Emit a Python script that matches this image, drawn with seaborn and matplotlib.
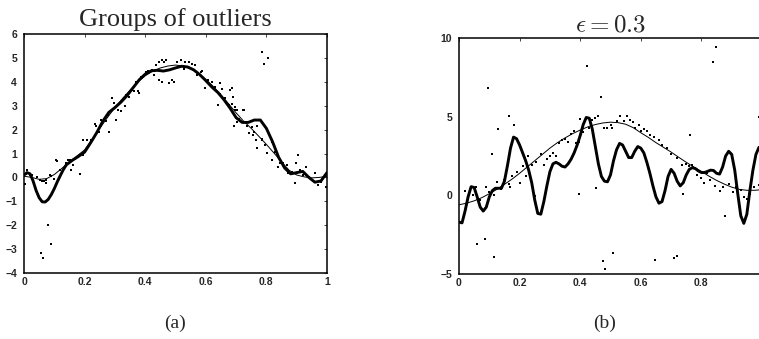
import numpy as np
import pandas as pd
import matplotlib
matplotlib.use("Agg")
import matplotlib.pyplot as plt
import seaborn as sns

# ---------------- panel (a): groups of outliers ----------------
a_true_x = [0.000, 0.025, 0.050, 0.075, 0.100, 0.125, 0.150, 0.175, 0.200, 0.225,
            0.250, 0.275, 0.300, 0.325, 0.350, 0.375, 0.400, 0.425, 0.450, 0.475,
            0.500, 0.525, 0.550, 0.575, 0.600, 0.625, 0.650, 0.675, 0.700, 0.725,
            0.750, 0.775, 0.800, 0.825, 0.850, 0.875, 0.900, 0.925, 0.950, 0.975, 1.000]
a_true_y = [0.05, 0.00, -0.08, -0.05, 0.12, 0.38, 0.65, 0.90, 1.15, 1.60,
            2.05, 2.50, 2.92, 3.30, 3.65, 3.98, 4.25, 4.45, 4.58, 4.66,
            4.70, 4.66, 4.55, 4.35, 4.10, 3.80, 3.45, 3.08, 2.70, 2.35,
            2.05, 1.72, 1.38, 1.02, 0.65, 0.30, 0.10, 0.02, -0.02, 0.00, 0.05]

a_fit_x = [0.00, 0.01, 0.02, 0.03, 0.04, 0.05, 0.06, 0.07, 0.08, 0.09, 0.10, 0.11,
           0.12, 0.13, 0.14, 0.16, 0.18, 0.20, 0.22, 0.24, 0.26, 0.28, 0.30, 0.32,
           0.34, 0.36, 0.38, 0.40, 0.42, 0.44, 0.46, 0.48, 0.50, 0.52, 0.54, 0.56,
           0.58, 0.60, 0.62, 0.64, 0.66, 0.68, 0.70, 0.72, 0.74, 0.76, 0.78, 0.80,
           0.82, 0.84, 0.86, 0.88, 0.90, 0.92, 0.94, 0.96, 0.98, 1.00]
a_fit_y = [0.10, 0.20, 0.15, -0.15, -0.55, -0.85, -1.02, -1.03, -0.92, -0.72, -0.47, -0.18,
           0.08, 0.33, 0.53, 0.72, 0.88, 1.06, 1.45, 1.87, 2.35, 2.72, 2.92, 3.15,
           3.42, 3.75, 4.08, 4.32, 4.46, 4.48, 4.45, 4.50, 4.58, 4.65, 4.62, 4.50,
           4.30, 4.05, 3.78, 3.55, 3.25, 2.90, 2.50, 2.30, 2.30, 2.40, 2.40, 2.05,
           1.50, 0.85, 0.40, 0.15, 0.20, 0.25, 0.00, -0.20, -0.15, 0.20]

a_pts_x = [0.003, 0.007, 0.009, 0.014, 0.020, 0.027, 0.030, 0.044, 0.052, 0.058,
           0.066, 0.072, 0.074, 0.085, 0.090, 0.100, 0.105, 0.109, 0.116, 0.118,
           0.140, 0.145, 0.151, 0.154, 0.162, 0.167, 0.181, 0.184, 0.195,
           0.055, 0.063, 0.080, 0.089,
           0.203, 0.195, 0.208, 0.222, 0.233, 0.238, 0.249, 0.255, 0.269, 0.276,
           0.282, 0.291, 0.298, 0.304, 0.309, 0.320, 0.326, 0.334, 0.337, 0.348,
           0.356, 0.364, 0.369, 0.375, 0.380, 0.386, 0.397, 0.402, 0.408, 0.424,
           0.435, 0.446, 0.457, 0.462, 0.430, 0.446, 0.457, 0.468, 0.479, 0.490,
           0.495, 0.506, 0.517, 0.528, 0.533, 0.544, 0.555, 0.566, 0.572, 0.583,
           0.588, 0.599, 0.608, 0.615, 0.621, 0.632, 0.648, 0.654, 0.665, 0.675,
           0.681, 0.686, 0.697, 0.703, 0.708, 0.725, 0.641, 0.647, 0.678, 0.685,
           0.691, 0.696, 0.724, 0.693, 0.704, 0.735, 0.751, 0.768, 0.744, 0.757,
           0.784, 0.759, 0.766, 0.784, 0.770, 0.795, 0.801, 0.817, 0.820, 0.828,
           0.839, 0.845, 0.856, 0.867, 0.872, 0.883, 0.894, 0.905, 0.898,
           0.784, 0.804, 0.793,
           0.910, 0.920, 0.930, 0.940, 0.950, 0.960, 0.970, 0.980, 0.990, 0.998]
a_pts_y = [-0.28, 0.15, 0.29, 0.18, 0.11, 0.11, -0.10, 0.01, -0.10, -0.17,
           -0.17, -0.24, -0.10, 0.11, 0.07, -0.07, 0.74, 0.67, -0.03, 0.32,
           0.60, 0.74, 0.74, 0.32, 0.53, 0.77, 0.91, 0.15, 0.95,
           -3.17, -3.38, -1.99, -2.80,
           1.20, 1.58, 1.58, 1.55, 2.25, 2.13, 1.90, 2.41, 2.38, 2.60,
           1.90, 3.33, 3.11, 2.41, 2.80, 2.78, 3.22, 3.00, 3.43, 3.36,
           3.64, 3.61, 3.99, 3.61, 3.53, 4.20, 4.27, 4.41, 4.45, 4.48,
           4.69, 4.83, 4.92, 4.83, 4.27, 4.06, 3.99, 4.90, 3.95, 4.06,
           3.99, 4.83, 4.92, 4.55, 4.83, 4.83, 4.76, 4.69, 4.27, 4.41,
           4.45, 3.75, 4.06, 3.85, 3.99, 3.78, 3.50, 3.71, 3.33, 3.01,
           3.67, 3.08, 2.94, 2.80, 2.45, 2.80, 3.03, 3.94, 3.03, 3.73,
           3.38, 2.82, 2.82, 2.15, 2.33, 2.15, 2.10, 2.15, 1.85, 1.77,
           1.59, 1.91, 1.56, 1.56, 1.22, 1.36, 1.01, 1.49, 0.73, 1.08,
           0.45, 0.59, 0.59, 0.52, 0.17, 0.24, -0.25, 0.94, 0.59,
           5.23, 5.01, 4.73,
           0.30, 0.10, 0.45, 0.00, -0.10, 0.20, -0.30, -0.20, 0.00, -0.40]

# ---------------- panel (b): epsilon = 0.3 ----------------
b_true_x = a_true_x
b_true_y = [-0.60, -0.50, -0.35, -0.15, 0.10, 0.38, 0.70, 1.03, 1.40, 1.80,
            2.20, 2.60, 3.00, 3.35, 3.65, 3.92, 4.15, 4.35, 4.50, 4.60,
            4.65, 4.62, 4.52, 4.30, 3.98, 3.68, 3.35, 3.05, 2.75, 2.42,
            2.10, 1.80, 1.52, 1.22, 0.95, 0.72, 0.52, 0.38, 0.32, 0.32, 0.36]

b_fit_x = [round(0.01 * i, 2) for i in range(101)]
b_fit_y = [-1.70, -1.75, -1.00, -0.10, 0.55, 0.50, -0.10, -0.75, -1.00, -0.75,
           -0.10, 0.30, 0.45, 0.45, 0.45, 0.90, 1.90, 3.00, 3.70, 3.60,
           3.20, 2.70, 2.20, 1.60, 0.80, -0.30, -1.15, -1.20, -0.40, 0.60,
           1.50, 2.00, 2.10, 2.00, 1.85, 1.80, 2.00, 2.30, 2.70, 3.20,
           3.80, 4.50, 4.95, 4.90, 4.20, 3.10, 2.00, 1.20, 0.90, 0.86,
           1.30, 2.20, 2.90, 3.30, 3.20, 2.80, 2.40, 2.40, 2.80, 3.10,
           3.00, 2.70, 2.10, 1.40, 0.60, -0.10, -0.50, -0.40, 0.30, 1.20,
           1.65, 1.40, 0.90, 0.60, 0.80, 1.30, 1.65, 1.76, 1.70, 1.55,
           1.45, 1.45, 1.52, 1.60, 1.58, 1.40, 1.35, 1.80, 2.50, 2.80,
           2.60, 1.60, 0.10, -1.30, -1.78, -1.20, 0.30, 1.60, 2.60, 3.05, 3.00]

b_pts_x = [0.020, 0.030, 0.045, 0.055, 0.070, 0.090, 0.100, 0.115, 0.125, 0.140,
           0.150, 0.165, 0.175, 0.190, 0.200, 0.210, 0.220, 0.240, 0.255, 0.270,
           0.280, 0.290, 0.300, 0.310, 0.320, 0.330, 0.340, 0.350, 0.360, 0.370,
           0.380, 0.385, 0.395, 0.400, 0.410, 0.430, 0.440, 0.450, 0.460, 0.480,
           0.490, 0.500, 0.505, 0.520, 0.530, 0.545, 0.555, 0.565, 0.575, 0.580,
           0.595, 0.600, 0.610, 0.620, 0.630, 0.645, 0.660, 0.670, 0.685, 0.700,
           0.720, 0.735, 0.750, 0.760, 0.770, 0.785, 0.800, 0.810, 0.820, 0.830,
           0.845, 0.860, 0.870, 0.890, 0.905, 0.915, 0.930, 0.940, 0.950, 0.960,
           0.975, 0.990,
           0.095, 0.166, 0.182, 0.128, 0.108, 0.227, 0.423, 0.467, 0.059, 0.085,
           0.116, 0.397, 0.453, 0.476, 0.483, 0.508, 0.250, 0.169, 0.849, 0.839,
           0.764, 0.740, 0.879, 0.648, 0.708, 0.719, 0.990]
b_pts_y = [0.25, -0.20, 0.00, 0.50, -0.30, 0.50, 0.20, 0.00, 0.85, 0.40,
           1.00, 0.75, 1.20, 1.50, 0.80, 1.85, 1.20, 1.90, 2.10, 2.60,
           1.90, 2.30, 2.50, 2.70, 2.50, 3.30, 3.50, 3.60, 3.40, 3.90,
           4.10, 3.30, 3.40, 4.85, 4.00, 4.30, 4.80, 4.90, 5.05, 4.30,
           4.30, 4.45, 4.30, 4.75, 5.05, 4.70, 5.05, 4.80, 4.65, 4.30,
           4.50, 4.10, 4.20, 4.10, 3.85, 3.70, 3.50, 3.20, 3.00, 2.60,
           2.35, 1.90, 2.00, 1.85, 1.90, 1.30, 1.10, 0.80, 1.40, 0.95,
           0.60, 0.30, 0.50, 0.75, 0.20, 0.55, 0.35, -0.10, -0.25, 0.10,
           0.55, 0.65,
           6.80, 5.07, 4.50, 4.20, 2.64, 2.50, 8.20, 6.28, -3.07, -2.80,
           -3.90, 0.10, 0.47, -4.20, -4.67, -3.66, -0.05, 0.50, 9.45, 8.50,
           3.83, 0.06, -1.30, -4.11, -3.96, -3.83, 5.00]

x_ticks = [0, 0.2, 0.4, 0.6, 0.8, 1]
a_xlabels = ['0', '0.2', '0.4', '0.6', '0.8', '1']
b_xlabels = ['0', '0.2', '0.4', '0.6', '0.8', '']   # "1" falls off the page
a_yticks = [-4, -3, -2, -1, 0, 1, 2, 3, 4, 5, 6]
b_yticks = [-5, 0, 5, 10]

sns.set_style("white")
plt.rcParams['font.family'] = ['Liberation Sans', 'DejaVu Sans']
plt.rcParams['mathtext.fontset'] = 'cm'

fig = plt.figure(figsize=(7.59, 3.39), dpi=100)
ax1 = fig.add_axes([24 / 759, 1 - 273 / 339, 303 / 759, 239 / 339])
ax2 = fig.add_axes([459 / 759, 1 - 274 / 339, 303 / 759, 236 / 339])


def draw_panel(ax, px, py, tx, ty, fx, fy, dot, xlabels, yticks):
    sns.scatterplot(x=px, y=py, ax=ax, color='black', marker='s', s=dot,
                    linewidth=0, legend=False)
    sns.lineplot(x=tx, y=ty, ax=ax, color='black', linewidth=0.7,
                 estimator=None, sort=False)
    sns.lineplot(x=fx, y=fy, ax=ax, color='black', linewidth=2.1,
                 estimator=None, sort=False)
    ax.set_xlim(0, 1)
    ax.set_ylim(yticks[0], yticks[-1])
    ax.set_xticks(x_ticks)
    ax.set_xticklabels(xlabels)
    ax.set_yticks(yticks)
    ax.set_yticklabels([str(v).replace('-', '\u2212') for v in yticks])
    ax.tick_params(direction='in', length=2.5, width=0.6, top=True, right=True,
                   labelsize=7.5)
    ax.tick_params(axis='x', pad=3)
    ax.tick_params(axis='y', pad=5)
    for lab in ax.get_xticklabels() + ax.get_yticklabels():
        lab.set_fontweight('bold')
    for sp in ax.spines.values():
        sp.set_linewidth(1.1)
        sp.set_color('black')
    ax.set_xlabel('')
    ax.set_ylabel('')


draw_panel(ax1, a_pts_x, a_pts_y, a_true_x, a_true_y, a_fit_x, a_fit_y, 4,
           a_xlabels, a_yticks)
ax1.set_title('Groups of outliers', fontsize=19, family='Liberation Serif', pad=6)

draw_panel(ax2, b_pts_x, b_pts_y, b_true_x, b_true_y, b_fit_x, b_fit_y, 2,
           b_xlabels, b_yticks)
ax2.set_title(r'$\epsilon = 0.3$', fontsize=18, pad=5)

fig.text(175 / 759, 1 - 323 / 339, '(a)', ha='center', va='center',
         fontsize=14, family='Liberation Serif')
fig.text(605 / 759, 1 - 323 / 339, '(b)', ha='center', va='center',
         fontsize=14, family='Liberation Serif')

fig.savefig('out.png', dpi=100)
